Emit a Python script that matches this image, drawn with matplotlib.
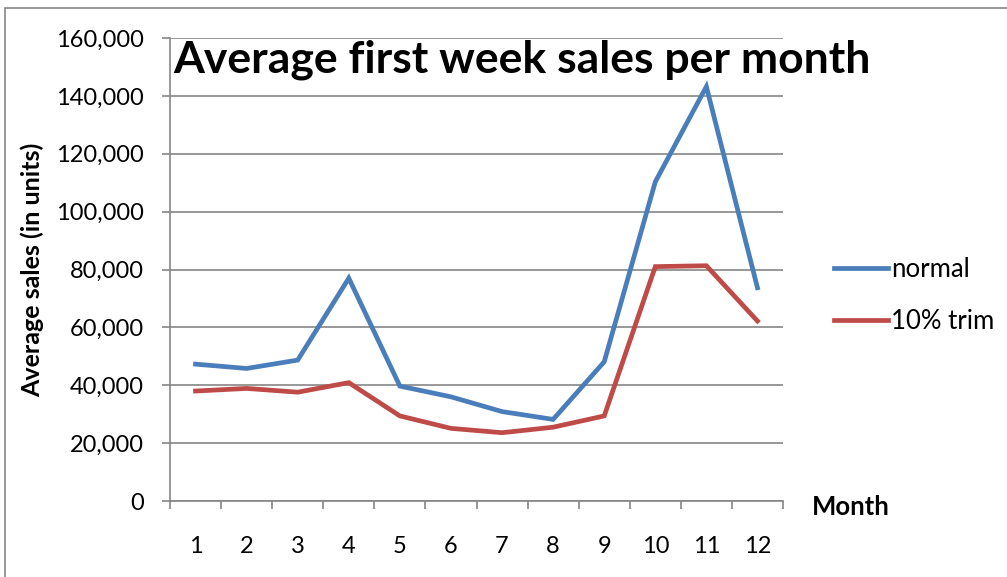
"""
Average first week sales per month: normal mean vs 10% trimmed mean.
Output: out.png
"""

import numpy as np
import matplotlib.pyplot as plt
import matplotlib as mpl
from matplotlib.ticker import FuncFormatter, FixedLocator

mpl.rcParams.update({
    'font.family': ['Lato', 'DejaVu Sans'],
    'font.size':   17,
})

months = [1, 2, 3, 4, 5, 6, 7, 8, 9, 10, 11, 12]
normal = [47300, 45800, 48700, 77000, 39700, 36000, 30900, 28200, 48100, 110300, 143200, 73700]
trim10 = [38000, 38900, 37600, 40900, 29400, 25100, 23600, 25500, 29400, 81000, 81300, 62200]

BLUE = '#4A7EBB'
RED = '#BE4B48'
GRID = '#868686'

fig = plt.figure(figsize=(10.07, 5.77), dpi=100)
ax = fig.add_axes([170 / 1007, 76 / 577, 613 / 1007, 463 / 577])

x = np.arange(1, len(months) + 1)
ax.plot(x, normal, color=BLUE, lw=3.4, label='normal', solid_joinstyle='miter')
ax.plot(x, trim10, color=RED, lw=3.4, label='10% trim', solid_joinstyle='miter')

ax.set_xlim(0.5, 12.5)
ax.set_ylim(0, 160000)
ax.set_yticks(np.arange(0, 160001, 20000))
ax.yaxis.set_major_formatter(FuncFormatter(lambda v, p: f'{int(v):,}'))
ax.set_xticks(x)
ax.set_xticklabels([str(m) for m in months])
ax.xaxis.set_minor_locator(FixedLocator(np.arange(0.5, 13, 1.0)))
ax.tick_params(axis='x', which='major', length=0, pad=25, labelsize=17)
ax.tick_params(axis='x', which='minor', length=6, width=1.2, color=GRID,
               direction='out')
ax.tick_params(axis='y', length=6, width=1.2, color=GRID, pad=13, labelsize=17)

ax.grid(axis='y', color=GRID, lw=1.2)
ax.set_axisbelow(True)
for s in ('top', 'right'):
    ax.spines[s].set_visible(False)
for s in ('left', 'bottom'):
    ax.spines[s].set_color(GRID)
    ax.spines[s].set_linewidth(1.2)

ax.set_ylabel('Average sales (in units)', fontweight='bold', fontsize=18)
ax.yaxis.set_label_coords((44 - 170) / 613, 0.5)
fig.text(812 / 1007, 1 - 507 / 577, 'Month', fontweight='bold', fontsize=18.5,
         ha='left', va='center')
fig.text(173 / 1007, 1 - 60 / 577, 'Average first week sales per month',
         fontweight='bold', fontsize=32, ha='left', va='center')

ax.legend(loc='center left', bbox_to_anchor=(1.046, 0.443), frameon=False,
          handlelength=2.1, handletextpad=0.1, labelspacing=1.05, fontsize=18.5)

# outer chart border
fig.patches.append(mpl.patches.Rectangle((5 / 1007, -0.01), 1.0, 1 - 8 / 577 + 0.01,
                                         transform=fig.transFigure, fill=False,
                                         edgecolor=GRID, lw=1.2))

fig.savefig('out.png', dpi=100)
